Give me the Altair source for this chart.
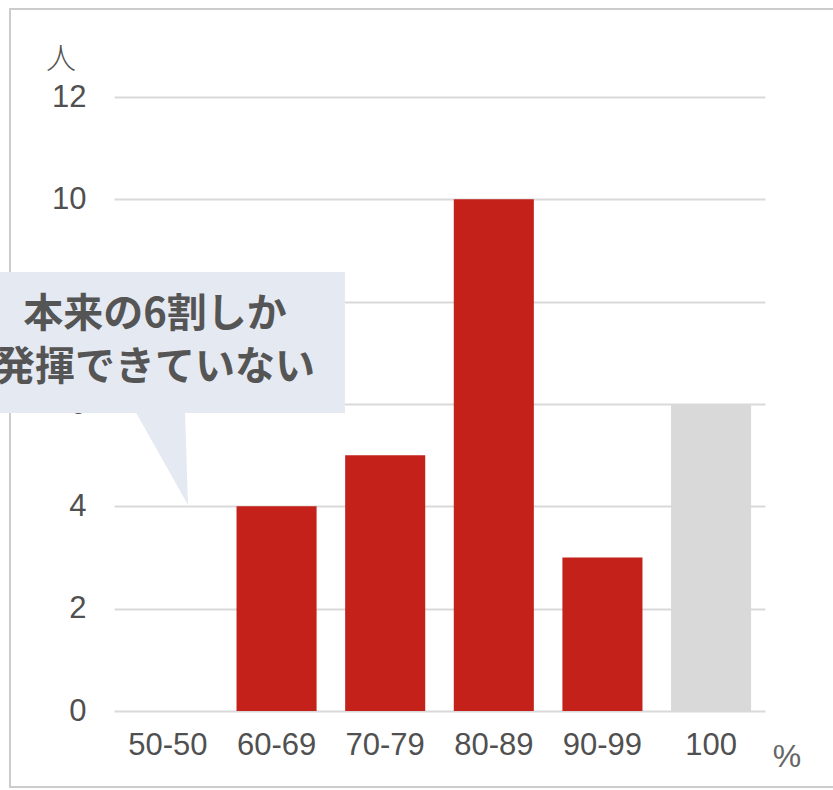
import altair as alt
import pandas as pd

categories = ["50-50", "60-69", "70-79", "80-89", "90-99", "100"]
counts = [0, 4, 5, 10, 3, 6]
y_ticks = [0, 2, 4, 6, 8, 10, 12]
callout_lines = ["本来の6割しか", "発揮できていない"]
y_unit = "人"
x_unit = "%"

df = pd.DataFrame({"cat": categories, "count": counts})
one = alt.Data(values=[{"k": 1}])

W, H = 651, 614
PL, PT = 114, 97

TXT = "#505050"
LFONT = "Liberation Sans"

bars = alt.Chart(df).mark_bar().encode(
    x=alt.X("cat:N", sort=categories,
            scale=alt.Scale(paddingInner=0.263, paddingOuter=0.128),
            axis=alt.Axis(title=None, labelAngle=0, domain=False, ticks=False,
                          labelPadding=19, labelFontSize=31, labelFont=LFONT,
                          labelColor=TXT, grid=False)),
    y=alt.Y("count:Q", scale=alt.Scale(domain=[0, 12], nice=False),
            axis=alt.Axis(title=None, values=y_ticks, domain=False, ticks=False,
                          labelPadding=28, labelFontSize=31, labelFont=LFONT,
                          labelColor=TXT, gridColor="#d9d9d9", gridWidth=2)),
    color=alt.condition(alt.datum.cat == "100", alt.value("#d9d9d9"), alt.value("#c3211a")),
)

# outer frame
frame = alt.Chart(one).mark_rect(fill=None, stroke="#cccccc", strokeWidth=2).encode(
    x=alt.value(10 - PL), x2=alt.value(845 - PL),
    y=alt.value(9 - PT), y2=alt.value(787 - PT),
)

# callout box
box = alt.Chart(one).mark_rect(color="#e5e9f1").encode(
    x=alt.value(-PL - 5), x2=alt.value(345 - PL),
    y=alt.value(272 - PT), y2=alt.value(413 - PT),
)

# callout tail (triangle via custom symbol path)
tail = alt.Chart(one).mark_point(
    shape="M -0.565 -1.05 L 0.522 -1.05 L 0.587 1 Z",
    filled=True, color="#e5e9f1", opacity=1, strokeWidth=0, size=46 * 46 * 4,
).encode(x=alt.value(161 - PL), y=alt.value(459 - PT))

text1 = alt.Chart(one).mark_text(
    text=callout_lines[0], font="Noto Sans CJK JP", fontWeight="bold", fontSize=40,
    color="#555555", align="center", baseline="middle",
).encode(x=alt.value(155 - PL), y=alt.value(315 - PT))

text2 = alt.Chart(one).mark_text(
    text=callout_lines[1], font="Noto Sans CJK JP", fontWeight="bold", fontSize=40,
    color="#555555", align="center", baseline="middle",
).encode(x=alt.value(155 - PL), y=alt.value(368 - PT))

unit_y = alt.Chart(one).mark_text(
    text=y_unit, font="Noto Sans CJK JP", fontWeight=300, fontSize=30,
    color="#555555", align="center", baseline="middle",
).encode(x=alt.value(61 - PL), y=alt.value(60 - PT))

unit_x = alt.Chart(one).mark_text(
    text=x_unit, font=LFONT, fontSize=32,
    color="#666666", align="center", baseline="middle",
).encode(x=alt.value(787 - PL), y=alt.value(757 - PT))

chart = alt.layer(frame, bars, box, tail, text1, text2, unit_y, unit_x).properties(
    width=W, height=H,
    autosize=alt.AutoSizeParams(type="none"),
    padding={"left": PL, "top": PT, "right": 833 - PL - W, "bottom": 790 - PT - H},
    background="white",
).configure_view(stroke=None)

chart.save("out.html", embed_options={"renderer": "svg", "actions": False})
